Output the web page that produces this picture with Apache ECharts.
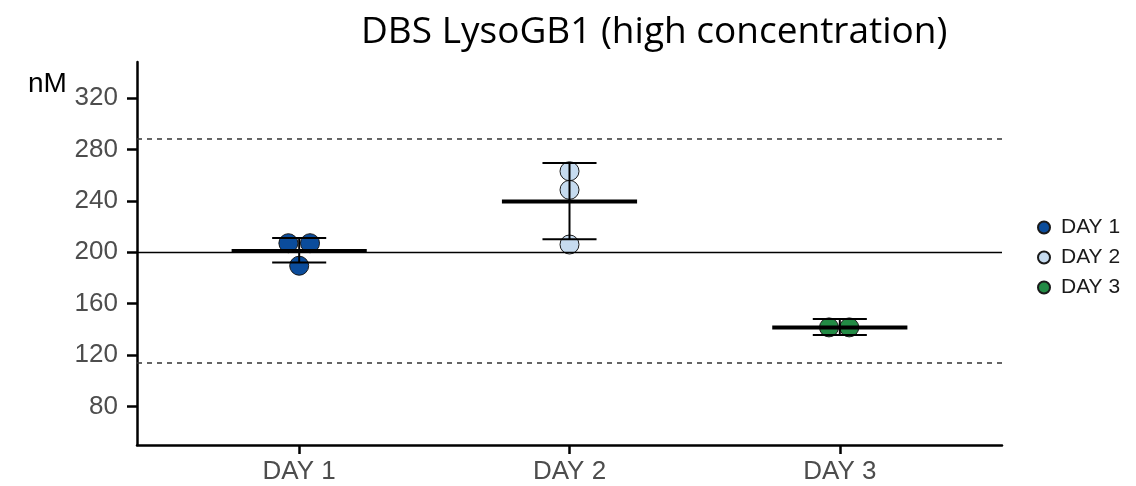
<!DOCTYPE html>
<html>
<head>
<meta charset="utf-8">
<script src="https://cdn.jsdelivr.net/npm/echarts@6/dist/echarts.min.js"></script>
<style>
html,body{margin:0;padding:0;background:#fff;}
#chart{width:1136px;height:486px;}
</style>
</head>
<body>
<div id="chart"></div>
<script>
// ---- data ----
const categories = ['DAY 1', 'DAY 2', 'DAY 3'];
const day1Values = [207, 207, 189.5];
const day2Values = [263, 248.5, 206];
const day3Values = [141.5, 141.5];
const day1Jitter = [-0.04, 0.04, 0];
const day2Jitter = [0, 0, 0];
const day3Jitter = [-0.04, 0.035];
const means = [201, 239.5, 141.5];
const sdLow = [192, 210, 135.5];
const sdHigh = [211, 269.5, 148];
const refCentre = 200;
const refLow = 114;
const refHigh = 288;
const yTicks = [80, 120, 160, 200, 240, 280, 320];
const colors = ['#0B4C9B', '#C6DBEF', '#238B45'];

const allValues = [day1Values, day2Values, day3Values];
const allJitter = [day1Jitter, day2Jitter, day3Jitter];

const chart = echarts.init(document.getElementById('chart'), null, {renderer: 'canvas'});

const scatterSeries = categories.map((c, i) => ({
  name: c,
  type: 'scatter',
  symbol: 'circle',
  symbolSize: 19,
  z: 2,
  itemStyle: {color: colors[i], borderColor: '#1a1a1a', borderWidth: 1, opacity: 1},
  emphasis: {disabled: true},
  data: allValues[i].map((v, j) => [i + 1 + allJitter[i][j], v])
}));

const summarySeries = {
  type: 'custom',
  name: 'summary',
  z: 5,
  silent: true,
  data: categories.map((c, i) => [i + 1, means[i], sdLow[i], sdHigh[i]]),
  renderItem: function (params, api) {
    const x = api.value(0);
    const m = api.value(1), lo = api.value(2), hi = api.value(3);
    const pm1 = api.coord([x - 0.25, m]);
    const pm2 = api.coord([x + 0.25, m]);
    const pLo = api.coord([x, lo]);
    const pHi = api.coord([x, hi]);
    const cLo1 = api.coord([x - 0.1, lo]);
    const cLo2 = api.coord([x + 0.1, lo]);
    const cHi1 = api.coord([x - 0.1, hi]);
    const cHi2 = api.coord([x + 0.1, hi]);
    const thin = {stroke: '#000', lineWidth: 2};
    return {
      type: 'group',
      children: [
        {type: 'line', shape: {x1: pLo[0], y1: pLo[1], x2: pHi[0], y2: pHi[1]}, style: thin},
        {type: 'line', shape: {x1: cLo1[0], y1: cLo1[1], x2: cLo2[0], y2: cLo2[1]}, style: thin},
        {type: 'line', shape: {x1: cHi1[0], y1: cHi1[1], x2: cHi2[0], y2: cHi2[1]}, style: thin},
        {type: 'line', shape: {x1: pm1[0], y1: pm1[1], x2: pm2[0], y2: pm2[1]}, style: {stroke: '#000', lineWidth: 4}}
      ]
    };
  },
  markLine: {
    silent: true,
    symbol: 'none',
    label: {show: false},
    animation: false,
    data: [
      {yAxis: refCentre, lineStyle: {type: 'solid', color: '#000', width: 1.3}},
      {yAxis: refHigh, lineStyle: {type: [5, 5], color: '#333', width: 1.5}},
      {yAxis: refLow, lineStyle: {type: [5, 5], color: '#333', width: 1.5}}
    ]
  }
};

const option = {
  animation: false,
  backgroundColor: '#fff',
  title: {
    text: 'DBS LysoGB1 (high concentration)',
    left: 356,
    top: 9,
    textStyle: {fontFamily: 'Open Sans', fontSize: 37, fontWeight: 'normal', color: '#000'}
  },
  graphic: [{
    type: 'text',
    left: 28,
    top: 70,
    style: {text: 'nM', fontFamily: 'Liberation Sans', fontSize: 28, fill: '#000'}
  }],
  legend: {
    data: categories,
    orient: 'vertical',
    left: 1032,
    top: 212,
    itemWidth: 12,
    itemHeight: 12,
    itemGap: 9,
    icon: 'circle',
    textStyle: {fontFamily: 'Liberation Sans', fontSize: 21, color: '#1a1a1a', padding: [0, 0, 0, 6]},
    selectedMode: false
  },
  grid: {left: 137, right: 134, top: 62, bottom: 41, containLabel: false},
  xAxis: {
    type: 'value',
    min: 0.4,
    max: 3.6,
    splitLine: {show: false},
    axisLine: {show: true, lineStyle: {color: '#000', width: 2.5}},
    axisTick: {show: true, length: 9, lineStyle: {color: '#000', width: 2.5}, customValues: [1, 2, 3]},
    axisLabel: {
      customValues: [1, 2, 3],
      formatter: v => categories[Math.round(v) - 1],
      fontFamily: 'Liberation Sans', fontSize: 26, color: '#4D4D4D', margin: 14
    }
  },
  yAxis: {
    type: 'value',
    min: 50,
    max: 348,
    splitLine: {show: false},
    axisLine: {show: true, lineStyle: {color: '#000', width: 2.5}},
    axisTick: {show: true, length: 10, lineStyle: {color: '#000', width: 2.5}, customValues: yTicks},
    axisLabel: {
      customValues: yTicks,
      fontFamily: 'Liberation Sans', fontSize: 26, color: '#4D4D4D', margin: 19
    }
  },
  series: scatterSeries.concat([summarySeries])
};

chart.setOption(option);
</script>
</body>
</html>
